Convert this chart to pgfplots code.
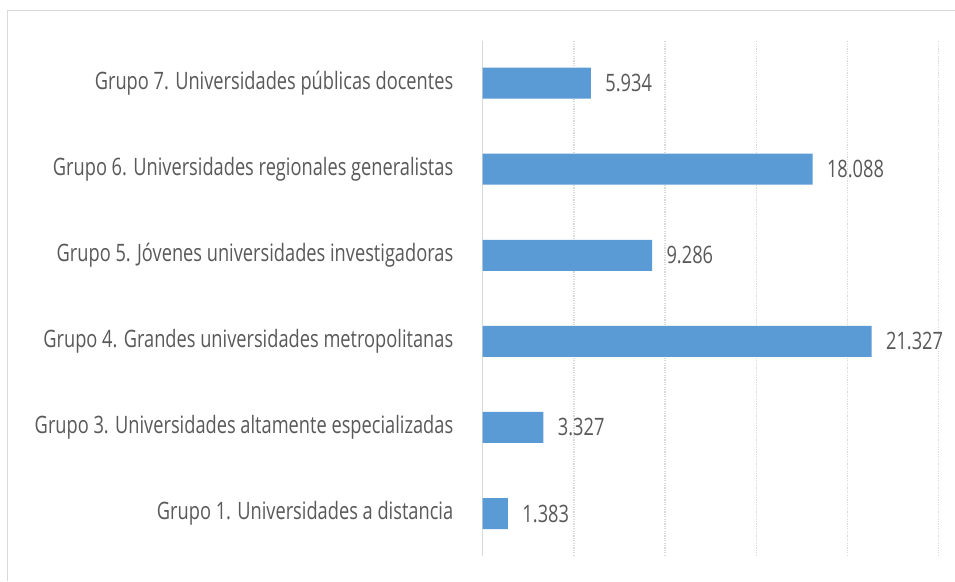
\documentclass[border=0pt]{standalone}
\usepackage{pgfplots}
\pgfplotsset{compat=1.18}
\usepackage{pgfplotstable}
\usepackage{fontspec}
\setmainfont[FakeStretch=0.76]{Open Sans}

\definecolor{barblue}{HTML}{5B9BD5}
\definecolor{txtgray}{HTML}{595959}
\definecolor{gridgray}{HTML}{D9D9D9}

\pgfplotstableread[col sep=comma]{
y,val,lab
0,1383,1.383
1,3327,3.327
2,21327,21.327
3,9286,9.286
4,18088,18.088
5,5934,5.934
}\grupos

\begin{document}
\begin{tikzpicture}[x=1pt,y=1pt]
  % page frame
  \fill[white] (0,0) rectangle (955,581);
  \draw[gridgray, line width=1pt] (8,0) -- (8,570) -- (955,570);
  \begin{axis}[
    at={(483pt,25pt)}, anchor=south west,
    scale only axis,
    width=456pt, height=515pt,
    xbar, bar width=31pt,
    xmin=0, xmax=25000,
    ymin=-0.49, ymax=5.49,
    xtick={5000,10000,15000,20000,25000},
    xticklabels={},
    scaled x ticks=false,
    ytick={0,1,2,3,4,5},
    yticklabels={
      Grupo 1. Universidades a distancia,
      Grupo 3. Universidades altamente especializadas,
      Grupo 4. Grandes universidades metropolitanas,
      Grupo 5. Jóvenes universidades investigadoras,
      Grupo 6. Universidades regionales generalistas,
      Grupo 7. Universidades públicas docentes},
    yticklabel style={font=\fontsize{24}{26}\selectfont, text=txtgray, xshift=-26pt},
    major tick length=0pt,
    xmajorgrids,
    grid style={gridgray, dash pattern=on 1.2pt off 1.2pt, line width=1.3pt},
    axis x line=bottom,
    x axis line style={draw=none},
    axis y line*=left,
    y axis line style={gridgray, line width=1.5pt, -},
    nodes near coords,
    point meta=explicit symbolic,
    every node near coord/.append style={font=\fontsize{24}{26}\selectfont, text=txtgray, anchor=west, xshift=11pt},
    clip=false,
  ]
    \addplot[fill=barblue, draw=none] table[x=val, y=y, meta=lab] {\grupos};
  \end{axis}
\end{tikzpicture}
\end{document}
